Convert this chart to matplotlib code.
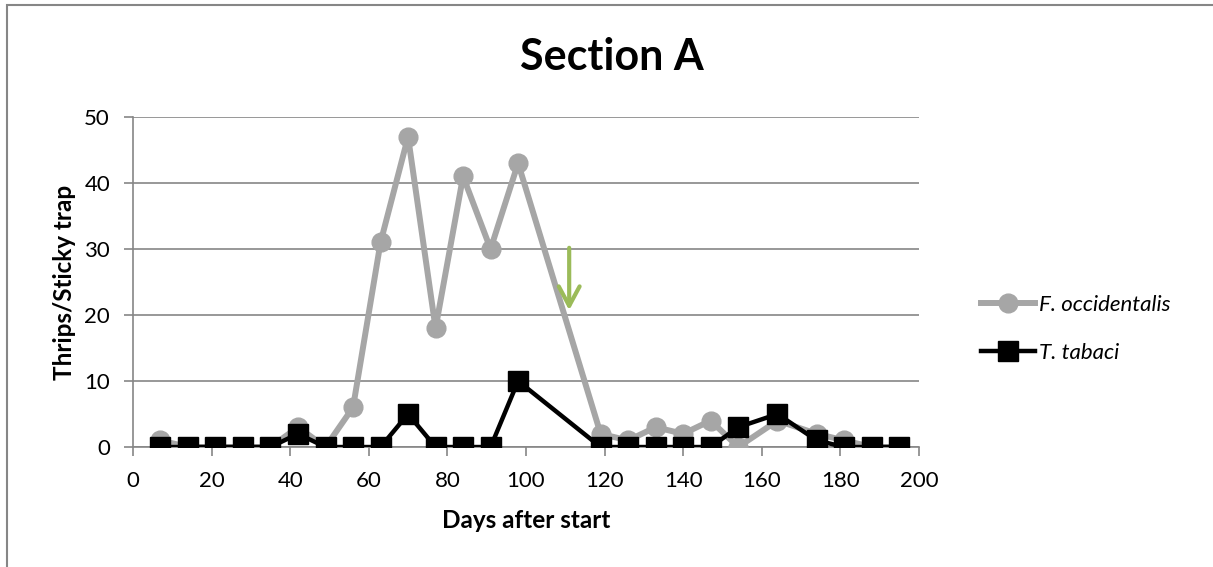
import numpy as np
import matplotlib.pyplot as plt
from matplotlib.patches import Rectangle

plt.rcParams['font.family'] = ['Lato', 'DejaVu Sans']

# sampling days and trap counts
days = [7, 14, 21, 28, 35, 42, 49, 56, 63, 70, 77, 84, 91, 98,
        119, 126, 133, 140, 147, 154, 164, 174, 181, 188, 195]
f_occ = [1, 0, 0, 0, 0, 3, 0, 6, 31, 47, 18, 41, 30, 43,
         2, 1, 3, 2, 4, 0, 4, 2, 1, 0, 0]
t_tab = [0, 0, 0, 0, 0, 2, 0, 0, 0, 5, 0, 0, 0, 10,
         0, 0, 0, 0, 0, 3, 5, 1, 0, 0, 0]

arrow_day = 111
arrow_from, arrow_to = 30.6, 20.3

grid_col = '#868686'

fig = plt.figure(figsize=(12.13, 5.67), dpi=100)
ax = fig.add_axes([0.1096, 0.2116, 0.648, 0.5821])

ax.plot(days, f_occ, color='#A6A6A6', lw=4.3, marker='o', ms=13.5,
        label='F. occidentalis', zorder=3)
ax.plot(days, t_tab, color='black', lw=3.2, marker='s', ms=14,
        label='T. tabaci', zorder=4)

ax.annotate('', xy=(arrow_day, arrow_to), xytext=(arrow_day, arrow_from),
            arrowprops=dict(arrowstyle='->,head_length=1.4,head_width=0.75',
                            color='#9BBB59', lw=3), zorder=5)

ax.set_xlim(0, 200)
ax.set_ylim(0, 50)
ax.set_xticks(np.arange(0, 201, 20))
ax.set_yticks(np.arange(0, 51, 10))
ax.yaxis.grid(True, color=grid_col, lw=1.2)
ax.set_axisbelow(True)
for s in ['top', 'right']:
    ax.spines[s].set_visible(False)
for s in ['left', 'bottom']:
    ax.spines[s].set_color(grid_col)
    ax.spines[s].set_linewidth(1.2)
ax.tick_params(axis='both', colors=grid_col, labelcolor='black',
               labelsize=16, length=6.5, width=1.2)
ax.tick_params(axis='x', pad=11)
ax.tick_params(axis='y', pad=10)

ax.set_xlabel('Days after start', fontsize=17.5, fontweight='bold', labelpad=13)
ax.set_ylabel('Thrips/Sticky trap', fontsize=17.5, fontweight='bold', labelpad=6)
fig.text(0.5045, 0.8765, 'Section A', fontsize=31, fontweight='bold',
         ha='center', va='baseline')

leg = fig.legend(loc='center left', bbox_to_anchor=(0.7926, 0.42), frameon=False,
                 prop=dict(size=16, style='italic'), handlelength=2.4,
                 handletextpad=0.2, labelspacing=1.25)

# outer chart frame
fig.patches.append(Rectangle((7 / 1213, -0.1), 1.2, (567 - 5) / 567 + 0.1,
                             transform=fig.transFigure, fill=False,
                             edgecolor=grid_col, lw=1.5))

fig.savefig('out.png', dpi=100)
